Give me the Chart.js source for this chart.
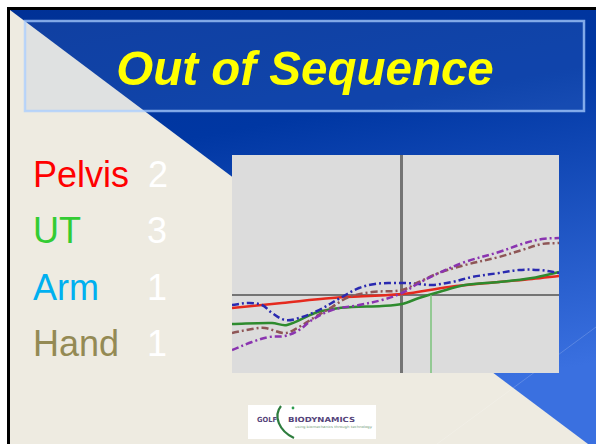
<!DOCTYPE html>
<html>
<head>
<meta charset="utf-8">
<script src="https://cdn.jsdelivr.net/npm/chart.js@4/dist/chart.umd.min.js"></script>
<style>
  html, body { margin: 0; padding: 0; background: #fff; }
  #slide { position: relative; width: 596px; height: 444px; overflow: hidden; }
  #bg { position: absolute; left: 0; top: 0; }
  #plot { position: absolute; left: 232px; top: 155px; width: 327px; height: 218px; background: #dcdcdc; }
</style>
</head>
<body>
<div id="slide">
  <svg id="bg" width="596" height="444" xmlns="http://www.w3.org/2000/svg">
    <defs>
      <linearGradient id="blue" x1="0" y1="0" x2="0.25" y2="1">
        <stop offset="0" stop-color="#003196"/>
        <stop offset="0.35" stop-color="#0037a3"/>
        <stop offset="1" stop-color="#3a70e0"/>
      </linearGradient>
    </defs>
    <rect x="7" y="7" width="589" height="437" fill="#000"/>
    <rect x="10" y="10" width="586" height="434" fill="#eeebe1"/>
    <polygon points="10,10 596,10 596,444 588,444" fill="url(#blue)"/>
    <line x1="596" y1="327" x2="437" y2="444" stroke="rgba(255,255,255,0.18)" stroke-width="1"/>
    <!-- title box -->
    <rect x="25" y="21" width="559" height="90" fill="rgba(120,160,235,0.13)" stroke="rgba(170,205,255,0.75)" stroke-width="2.5"/>
    <text x="305" y="85" text-anchor="middle" font-family="Liberation Sans, Arial, sans-serif" font-weight="bold" font-style="italic" font-size="49" fill="#ffff00" transform="translate(305,0) scale(0.97,1) translate(-305,0)">Out of Sequence</text>
    <!-- segment list -->
    <g font-family="Liberation Sans, Arial, sans-serif" font-size="36">
      <text x="33" y="187" fill="#ff0000">Pelvis</text>
      <text x="148" y="187" fill="#ffffff">2</text>
      <text x="33" y="243" fill="#33cc33">UT</text>
      <text x="147" y="243" fill="#ffffff">3</text>
      <text x="33" y="300" fill="#00b0f0">Arm</text>
      <text x="147" y="300" fill="#ffffff">1</text>
      <text x="33" y="356" fill="#948a54">Hand</text>
      <text x="147" y="356" fill="#ffffff">1</text>
    </g>
    <!-- logo -->
    <rect x="248" y="405" width="128" height="34" fill="#ffffff"/>
    <path d="M281 406 C 273 416, 279 431, 294 438" stroke="#2e7d3e" stroke-width="2.2" fill="none"/>
    <circle cx="293" cy="408" r="1.4" fill="#2e9d4e"/>
    <g font-family="DejaVu Sans, sans-serif" font-weight="bold" fill="#54447a">
      <text x="257" y="422" font-size="7" textLength="20" lengthAdjust="spacingAndGlyphs">GOLF</text>
      <text x="288" y="422" font-size="7" textLength="67" lengthAdjust="spacingAndGlyphs">BIODYNAMICS</text>
    </g>
    <text x="295" y="428" font-family="DejaVu Sans, sans-serif" font-size="3.4" fill="#6f9a78" textLength="77" lengthAdjust="spacingAndGlyphs">using biomechanics through technology</text>
  </svg>
  <canvas id="plot" width="327" height="218"></canvas>
</div>
<script>
// x: time relative to the vertical marker, y: relative to the horizontal zero line
var pelvisX = [-170, -120, -70, 0, 47, 97, 130, 157];
var pelvisY = [-13, -8, -3, 1, 8, 13, 16, 19];

var torsoX = [-170, -130, -115, -87, -70, -50, -20, 0, 17, 37, 63, 97, 130, 157];
var torsoY = [-29, -28, -30, -18, -14, -12, -11, -9, -3, 3, 10, 13, 17, 23];

var armX = [-170, -153, -140, -130, -117, -103, -83, -60, -43, -27, -10, 3, 17, 30, 50, 70, 97, 117, 137, 157];
var armY = [-10, -8, -10, -18, -25, -23, -15, -2, 7, 11, 12, 12, 11, 10, 13, 18, 22, 25, 25, 22];

var handX = [-170, -150, -137, -117, -103, -87, -70, -53, -30, 0, 17, 37, 63, 97, 120, 140, 157];
var handY = [-38, -34, -33, -38, -32, -22, -12, -2, 3, 5, 13, 22, 30, 38, 45, 51, 52];

var clubX = [-170, -150, -133, -117, -103, -90, -70, -43, -20, 0, 17, 37, 63, 97, 120, 140, 157];
var clubY = [-55, -47, -42, -41, -35, -25, -15, -10, -5, 2, 12, 22, 33, 43, 51, 56, 57];

var markerX = [29, 29];
var markerY = [0, -78];

function pts(xs, ys) {
    return xs.map(function (x, i) { return { x: x, y: ys[i] }; });
}

var dashDot = [7, 3, 2, 3];

var ctx = document.getElementById('plot').getContext('2d');
new Chart(ctx, {
    type: 'line',
    data: {
        datasets: [
            { label: 'Marker', data: pts(markerX, markerY), borderColor: '#7cc47c', borderWidth: 1.5, tension: 0 },
            { label: 'Club', data: pts(clubX, clubY), borderColor: '#8a34b0', borderWidth: 2.5, borderDash: dashDot },
            { label: 'Hand', data: pts(handX, handY), borderColor: '#8e5656', borderWidth: 2.5, borderDash: dashDot },
            { label: 'Arm', data: pts(armX, armY), borderColor: '#2a2ab0', borderWidth: 2.5, borderDash: dashDot },
            { label: 'UT', data: pts(torsoX, torsoY), borderColor: '#2e8b2e', borderWidth: 2.5 },
            { label: 'Pelvis', data: pts(pelvisX, pelvisY), borderColor: '#e52a1e', borderWidth: 2.5 }
        ]
    },
    options: {
        responsive: false,
        animation: false,
        layout: { padding: 0 },
        elements: {
            point: { radius: 0 },
            line: { tension: 0.35, fill: false }
        },
        plugins: { legend: { display: false }, tooltip: { enabled: false } },
        scales: {
            x: {
                type: 'linear', min: -170, max: 157,
                ticks: { display: false, stepSize: 10 },
                border: { display: false },
                grid: {
                    drawTicks: false,
                    lineWidth: 3,
                    color: function (c) { return c.tick && c.tick.value === 0 ? '#747474' : 'rgba(0,0,0,0)'; }
                }
            },
            y: {
                type: 'linear', min: -78, max: 140,
                ticks: { display: false, stepSize: 10 },
                border: { display: false },
                grid: {
                    drawTicks: false,
                    lineWidth: 2,
                    color: function (c) { return c.tick && c.tick.value === 0 ? '#747474' : 'rgba(0,0,0,0)'; }
                }
            }
        }
    }
});
</script>
</body>
</html>
